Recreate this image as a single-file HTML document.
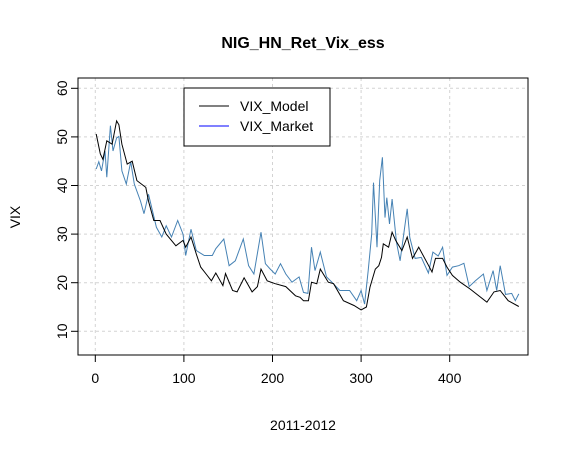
<!DOCTYPE html>
<html><head><meta charset="utf-8"><style>
body{margin:0;background:#fff;}
svg text{font-family:"Liberation Sans",Arial,sans-serif;}
</style></head><body>
<svg id="chart" width="569" height="454" xmlns="http://www.w3.org/2000/svg">
<rect width="569" height="454" fill="#fff"/>
<text x="303" y="48" text-anchor="middle" font-size="16" font-weight="bold">NIG_HN_Ret_Vix_ess</text>
<text x="303" y="430" text-anchor="middle" font-size="14">2011-2012</text>
<text x="20" y="217" text-anchor="middle" font-size="14" transform="rotate(-90 20 217)">VIX</text>
<g id="grid"></g><g id="axes"></g><g id="series"></g>
<rect x="78" y="78" width="450" height="277" fill="none" stroke="#000"/>
<g>
<rect x="184" y="88" width="146" height="58" fill="#fff" stroke="#000"/>
<line x1="199" y1="106" x2="229" y2="106" stroke="#000"/>
<text x="240" y="111" font-size="14">VIX_Model</text>
<line x1="199" y1="126" x2="229" y2="126" stroke="#0000ff"/>
<text x="240" y="131" font-size="14">VIX_Market</text>
</g>
</svg>
<script>
const xTicks=[0,100,200,300,400];
const yTicks=[10,20,30,40,50,60];
const modelIdx=[1,5.6,8.6,13,19,24,26.6,30,36,41.6,47,57,60,66,73,80,91,99,102,108,114,119,125,131,136,144,147,155,160,168,177,183,187,194,203,215,226,231,235,240.5,244,250,254,263,269,280,292,300,306,310,316,320,323,325,331,335,339,346,352,358,365,375,380,384,392,397,403,412,423,442,450,457,466,478];
const modelVal=[50.6,46.5,45.4,49.2,48.5,53.3,52.5,48.5,44.4,45,41,39.6,36.8,32.8,32.8,30,27.6,28.7,27.3,29.4,25.9,23.2,21.8,20.4,22,19.4,21.9,18.4,18.1,21,18.1,19.2,22.8,20.4,19.8,19.2,17.3,17.0,16.3,16.3,20.1,19.8,22.8,20.1,19.8,16.3,15.3,14.4,15,19.1,22.8,23.5,25.2,28,27.3,30.4,28.7,26.6,29.4,25,27.3,23.9,22.2,25,25,23.2,21.5,20.1,18.7,16,18.1,18.4,16.3,15.1];
const marketIdx=[1,4,7,11,13,17,20,24,26.6,30,35,40,44,51,55,60,69,75,80,86,93,99,102,108,114,123,132,136,145,151,158,167,173,179,187,192,197,203,209,215,222,230,235,240,244,248,254,261,267,276,287,295,300,304,308,312,314,318,321,324,327,329,332,335,340,344,352,355,361,368,376,381,387,392,397,403,410,416,422,429,438,442,449,453,457,463,470,474,478];
const marketVal=[43.4,44.9,43,47.1,41.7,52.3,47.1,49.8,50.1,43,40.3,44.9,40.3,36.8,34.2,38.2,31.4,29.4,31.7,29.4,32.8,30,25.6,31,26.6,25.6,25.6,27,29,23.5,24.5,29,23.5,21.8,30.4,23.9,22.9,21.8,23.9,21.8,20.1,21.2,18,17.8,27.3,22.5,26.3,21.2,20.1,18.4,18.4,16.3,18.4,15.6,22.5,30,40.6,27.3,41,45.8,33.4,37.5,32.1,37.2,28.3,24.5,35.2,29.3,25,25.2,22,26.3,25.5,27.3,21.5,23.2,23.5,24,19.2,20.4,21.8,18.4,22.5,18.4,23.5,17.6,17.8,16.3,17.7];
const NS='http://www.w3.org/2000/svg';
const xs=v=>95.3+v*0.886;
const ys=v=>331.3-(v-10)*4.86;
function mk(t,a,p){const e=document.createElementNS(NS,t);for(const k in a)e.setAttribute(k,a[k]);p.appendChild(e);return e;}
const grid=document.getElementById('grid'),axes=document.getElementById('axes'),ser=document.getElementById('series');
xTicks.forEach(t=>{
  const g=mk('line',{x1:xs(t),x2:xs(t),y1:78,y2:355,stroke:'#d3d3d3','stroke-dasharray':'3,3'},grid);
  
  
  const l=mk('line',{x1:xs(t),x2:xs(t),y1:355,y2:362,stroke:'#000'},axes);
  
  
  const tx=mk('text',{x:xs(t),y:383,'text-anchor':'middle','font-size':14},axes);
  tx.textContent=t;
  
  
});
yTicks.forEach(t=>{
  const g=mk('line',{x1:78,x2:528,y1:ys(t),y2:ys(t),stroke:'#d3d3d3','stroke-dasharray':'3,3'},grid);
  
  
  const l=mk('line',{x1:71,x2:78,y1:ys(t),y2:ys(t),stroke:'#000'},axes);
  
  
  const tx=mk('text',{x:0,y:0,'text-anchor':'middle','font-size':14,transform:`translate(62 ${ys(t)}) rotate(-90)`,dy:5},axes);
  tx.textContent=t;
  
  
});
function pts(ix,vv){return ix.map((x,i)=>xs(x).toFixed(1)+','+ys(vv[i]).toFixed(1)).join(' ');}
const mkt=mk('polyline',{points:pts(marketIdx,marketVal),fill:'none',stroke:'#4682b4','stroke-width':1},ser);


const mdl=mk('polyline',{points:pts(modelIdx,modelVal),fill:'none',stroke:'#000','stroke-width':1},ser);


</script>
</body></html>
